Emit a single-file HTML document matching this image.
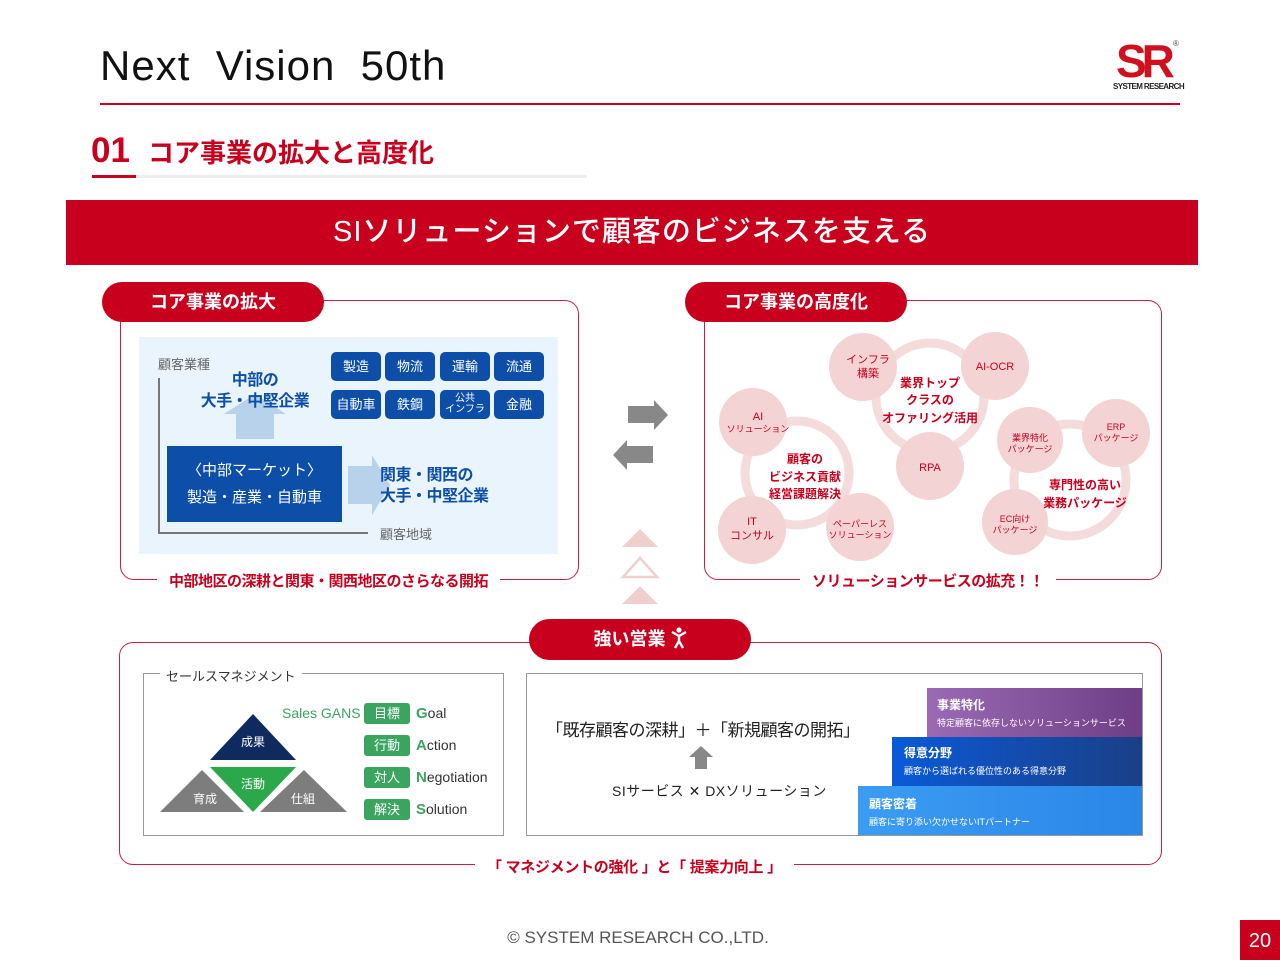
<!DOCTYPE html>
<html><head><meta charset="utf-8"><style>
*{margin:0;padding:0;box-sizing:border-box}
body{width:1280px;height:960px;background:#fff;position:relative;overflow:hidden;font-family:"Liberation Sans","Noto Sans CJK JP",sans-serif;color:#222}
.a{position:absolute}
.pill{position:absolute;background:#c8001e;color:#fff;font-weight:bold;font-size:18px;border-radius:22px;text-align:center}
.panel{position:absolute;border:1.5px solid #c8203a;border-radius:14px}
.cap{position:absolute;background:#fff;color:#c8001e;font-weight:bold;font-size:15px;padding:0 12px;white-space:nowrap}
.bb{position:absolute;width:50px;height:29px;background:#0d4fa8;border-radius:5px;color:#fff;font-size:13px;text-align:center;line-height:29px}
.g{position:absolute;background:#3aa55f;color:#fff;font-size:13px;width:46px;height:21px;line-height:21px;text-align:center;border-radius:3px}
.gt{position:absolute;font-size:14px;color:#333}
.gt b{color:#3aa55f;font-weight:bold;font-size:15px}
</style></head><body>
<div class="a" style="left:100px;top:42px;font-size:42px;letter-spacing:1px;color:#111;font-weight:500">Next&nbsp; Vision&nbsp; 50th</div>
<div class="a" style="left:1116px;top:36px;font-size:46px;font-weight:bold;color:#d0101e;letter-spacing:-5px;line-height:50px">SR</div>
<div class="a" style="left:1173px;top:39px;font-size:8px;color:#444">®</div>
<div class="a" style="left:1113px;top:82px;font-size:8px;font-weight:bold;color:#222;letter-spacing:-0.6px">SYSTEM RESEARCH</div>
<div class="a" style="left:100px;top:103px;width:1080px;height:2px;background:#c8001e"></div>

<div class="a" style="left:91px;top:130px;font-size:35px;font-weight:bold;color:#c8001e;line-height:42px">01</div>
<div class="a" style="left:148px;top:136px;font-size:26px;font-weight:bold;color:#c8001e;line-height:34px">コア事業の拡大と高度化</div>
<div class="a" style="left:92px;top:175px;width:495px;height:3px;background:#eee"></div>
<div class="a" style="left:92px;top:175px;width:44px;height:3px;background:#c8001e"></div>

<div class="a" style="left:66px;top:200px;width:1132px;height:65px;background:#c8001e;color:#fff;font-size:29px;font-weight:500;text-align:center;line-height:65px;letter-spacing:1px">SIソリューションで顧客のビジネスを支える</div>

<!-- left panel -->
<div class="panel" style="left:120px;top:300px;width:459px;height:280px"></div>
<div class="pill" style="left:102px;top:282px;width:222px;height:40px;line-height:40px">コア事業の拡大</div>
<div class="cap" style="left:157px;top:570px;letter-spacing:-0.5px">中部地区の深耕と関東・関西地区のさらなる開拓</div>
<div class="a" style="left:139px;top:337px;width:419px;height:217px;background:#e9f4fc"></div>
<div class="a" style="left:158px;top:354px;font-size:13px;color:#666">顧客業種</div>
<div class="a" style="left:158px;top:378px;width:1.5px;height:155px;background:#777"></div>
<div class="a" style="left:158px;top:532px;width:210px;height:1.5px;background:#777"></div>
<div class="a" style="left:380px;top:524px;font-size:13px;color:#666">顧客地域</div>
<div class="a" style="left:224px;top:394px;width:0;height:0;border-left:31px solid transparent;border-right:31px solid transparent;border-bottom:20px solid #b8d2ec"></div>
<div class="a" style="left:236px;top:413px;width:38px;height:26px;background:#b8d2ec"></div>
<div class="a" style="left:185px;top:370px;width:140px;text-align:center;font-size:16px;font-weight:bold;color:#0d4fa8;line-height:21px;white-space:nowrap;letter-spacing:-0.5px">中部の<br>大手・中堅企業</div>
<div class="a" style="left:167px;top:446px;width:175px;height:76px;background:#0d4fa8;color:#fff;text-align:center;font-size:15px;line-height:27px;padding-top:11px">〈中部マーケット〉<br>製造・産業・自動車</div>
<div class="a" style="left:348px;top:466px;width:24px;height:38px;background:#b8d2ec"></div>
<div class="a" style="left:372px;top:455px;width:0;height:0;border-top:30px solid transparent;border-bottom:30px solid transparent;border-left:18px solid #b8d2ec"></div>
<div class="a" style="left:380px;top:465px;font-size:16px;font-weight:bold;color:#0d4fa8;line-height:21px;letter-spacing:-0.5px">関東・関西の<br>大手・中堅企業</div>
<div class="bb" style="left:331px;top:352px">製造</div>
<div class="bb" style="left:385px;top:352px">物流</div>
<div class="bb" style="left:440px;top:352px">運輸</div>
<div class="bb" style="left:494px;top:352px">流通</div>
<div class="bb" style="left:331px;top:390px">自動車</div>
<div class="bb" style="left:385px;top:390px">鉄鋼</div>
<div class="bb" style="left:440px;top:390px;font-size:10px;line-height:11px;padding-top:3px">公共<br>インフラ</div>
<div class="bb" style="left:494px;top:390px">金融</div>

<!-- middle arrows -->
<div class="a" style="left:628px;top:406px;width:26px;height:17px;background:#888"></div>
<div class="a" style="left:654px;top:400px;border-top:15px solid transparent;border-bottom:15px solid transparent;border-left:14px solid #888"></div>
<div class="a" style="left:627px;top:446px;width:26px;height:17px;background:#888"></div>
<div class="a" style="left:613px;top:440px;border-top:15px solid transparent;border-bottom:15px solid transparent;border-right:14px solid #888"></div>
<svg class="a" style="left:615px;top:525px" width="50" height="82"><polygon points="25,4 43,22 7,22" fill="#f1cfcf"/><polygon points="25,33 42,52 8,52" fill="none" stroke="#f1cfcf" stroke-width="2.5"/><polygon points="25,61 43,79 7,79" fill="#f1cfcf"/></svg>

<!-- right panel -->
<div class="panel" style="left:704px;top:300px;width:458px;height:280px"></div>
<div class="pill" style="left:685px;top:282px;width:222px;height:40px;line-height:40px">コア事業の高度化</div>
<div class="cap" style="left:800px;top:570px;letter-spacing:-0.5px">ソリューションサービスの拡充！！</div>
<svg class="a" style="left:700px;top:330px" width="460" height="240" font-family="Liberation Sans, Noto Sans CJK JP, sans-serif" text-anchor="middle">
<g fill="none" stroke="#f5dcdc" stroke-width="9">
<circle cx="97" cy="143" r="52"/><circle cx="230" cy="67" r="54"/><circle cx="370" cy="150" r="56"/></g>
<g fill="#f3d3d3">
<circle cx="53" cy="92" r="34"/><circle cx="52" cy="200" r="34"/><circle cx="160" cy="197" r="34"/>
<circle cx="163" cy="37" r="34"/><circle cx="295" cy="36" r="34"/><circle cx="230" cy="136" r="34"/>
<circle cx="330" cy="110" r="33"/><circle cx="416" cy="103" r="34"/><circle cx="315" cy="192" r="33"/></g>
<g fill="#c8001e" font-size="11">
<text x="58" y="90">AI</text><text x="58" y="102" font-size="9">ソリューション</text>
<text x="52" y="195">IT</text><text x="52" y="209">コンサル</text>
<text x="160" y="197" font-size="9">ペーパーレス</text><text x="160" y="208" font-size="9">ソリューション</text>
<text x="168" y="33">インフラ</text><text x="168" y="47">構築</text>
<text x="295" y="40">AI-OCR</text><text x="230" y="141">RPA</text>
<text x="330" y="111" font-size="9">業界特化</text><text x="330" y="122" font-size="9">パッケージ</text>
<text x="416" y="100" font-size="9">ERP</text><text x="416" y="111" font-size="9">パッケージ</text>
<text x="315" y="192" font-size="9">EC向け</text><text x="315" y="203" font-size="9">パッケージ</text>
<g font-weight="bold" font-size="12"><text x="105" y="133">顧客の</text><text x="105" y="151">ビジネス貢献</text><text x="105" y="168">経営課題解決</text>
<text x="230" y="57">業界トップ</text><text x="230" y="74">クラスの</text><text x="230" y="92">オファリング活用</text>
<text x="385" y="159">専門性の高い</text><text x="385" y="177">業務パッケージ</text></g></g>
</svg>

<!-- bottom panel -->
<div class="panel" style="left:119px;top:642px;width:1043px;height:223px"></div>
<div class="pill" style="left:529px;top:619px;width:222px;height:41px;line-height:41px">強い営業 <svg width="16" height="22" viewBox="0 0 16 22" style="vertical-align:-4px"><circle cx="8" cy="3" r="2.6" fill="#fff"/><path d="M1 5 L8 9 L15 5 M8 8 L8 14 M8 14 L4 21 M8 14 L12 21" stroke="#fff" stroke-width="2.4" fill="none"/></svg></div>
<div class="cap" style="left:475px;top:856px;letter-spacing:-0.3px">「 マネジメントの強化 」と「 提案力向上 」</div>
<div class="a" style="left:143px;top:673px;width:361px;height:163px;border:1px solid #999"></div>
<div class="a" style="left:160px;top:666px;background:#fff;padding:0 6px;font-size:13px;color:#333">セールスマネジメント</div>
<svg class="a" style="left:150px;top:700px" width="210" height="120" font-family="Liberation Sans, Noto Sans CJK JP, sans-serif" text-anchor="middle" font-size="12" fill="#fff">
<polygon points="103,14 146,60 60,60" fill="#0f2a5e"/><polygon points="60,67 146,67 103,112" fill="#2aa84a"/>
<polygon points="52,70 94,112 10,112" fill="#7d7d7d"/><polygon points="154,70 197,112 110,112" fill="#7d7d7d"/>
<text x="103" y="46">成果</text><text x="103" y="88">活動</text><text x="55" y="103">育成</text><text x="153" y="103">仕組</text>
</svg>
<div class="a" style="left:282px;top:705px;font-size:14px;color:#3aa55f">Sales GANS</div>
<div class="g" style="left:364px;top:703px">目標</div><div class="gt" style="left:416px;top:705px"><b>G</b>oal</div>
<div class="g" style="left:364px;top:735px">行動</div><div class="gt" style="left:416px;top:737px"><b>A</b>ction</div>
<div class="g" style="left:364px;top:767px">対人</div><div class="gt" style="left:416px;top:769px"><b>N</b>egotiation</div>
<div class="g" style="left:364px;top:799px">解決</div><div class="gt" style="left:416px;top:801px"><b>S</b>olution</div>

<div class="a" style="left:526px;top:673px;width:617px;height:163px;border:1px solid #999"></div>
<div class="a" style="left:546px;top:716px;font-size:17px;color:#222;letter-spacing:-0.5px">「既存顧客の深耕」＋「新規顧客の開拓」</div>
<div class="a" style="left:689px;top:746px;border-left:12px solid transparent;border-right:12px solid transparent;border-bottom:11px solid #888"></div>
<div class="a" style="left:695px;top:757px;width:12px;height:12px;background:#888"></div>
<div class="a" style="left:612px;top:781px;font-size:14px;color:#222;letter-spacing:0.5px">SIサービス ✕ DXソリューション</div>
<div class="a" style="left:927px;top:688px;width:215px;height:49px;background:linear-gradient(90deg,#9a6bb4,#6e3d86);color:#fff;padding:8px 10px"><div style="font-size:12px;font-weight:bold">事業特化</div><div style="font-size:9px;margin-top:3px">特定顧客に依存しないソリューションサービス</div></div>
<div class="a" style="left:892px;top:737px;width:250px;height:49px;background:linear-gradient(90deg,#0a5ad8,#1b3f86);color:#fff;padding:7px 12px"><div style="font-size:12px;font-weight:bold">得意分野</div><div style="font-size:9px;margin-top:3px">顧客から選ばれる優位性のある得意分野</div></div>
<div class="a" style="left:858px;top:786px;width:284px;height:49px;background:linear-gradient(90deg,#3c9cf2,#2a86e8);color:#fff;padding:9px 11px"><div style="font-size:12px;font-weight:bold">顧客密着</div><div style="font-size:9px;margin-top:3px">顧客に寄り添い欠かせないITパートナー</div></div>

<div class="a" style="left:0;top:928px;width:1276px;text-align:center;font-size:17px;color:#555">© SYSTEM RESEARCH CO.,LTD.</div>
<div class="a" style="left:1240px;top:920px;width:40px;height:40px;background:#c8001e;color:#fff;font-size:20px;text-align:center;line-height:42px">20</div>
</body></html>
